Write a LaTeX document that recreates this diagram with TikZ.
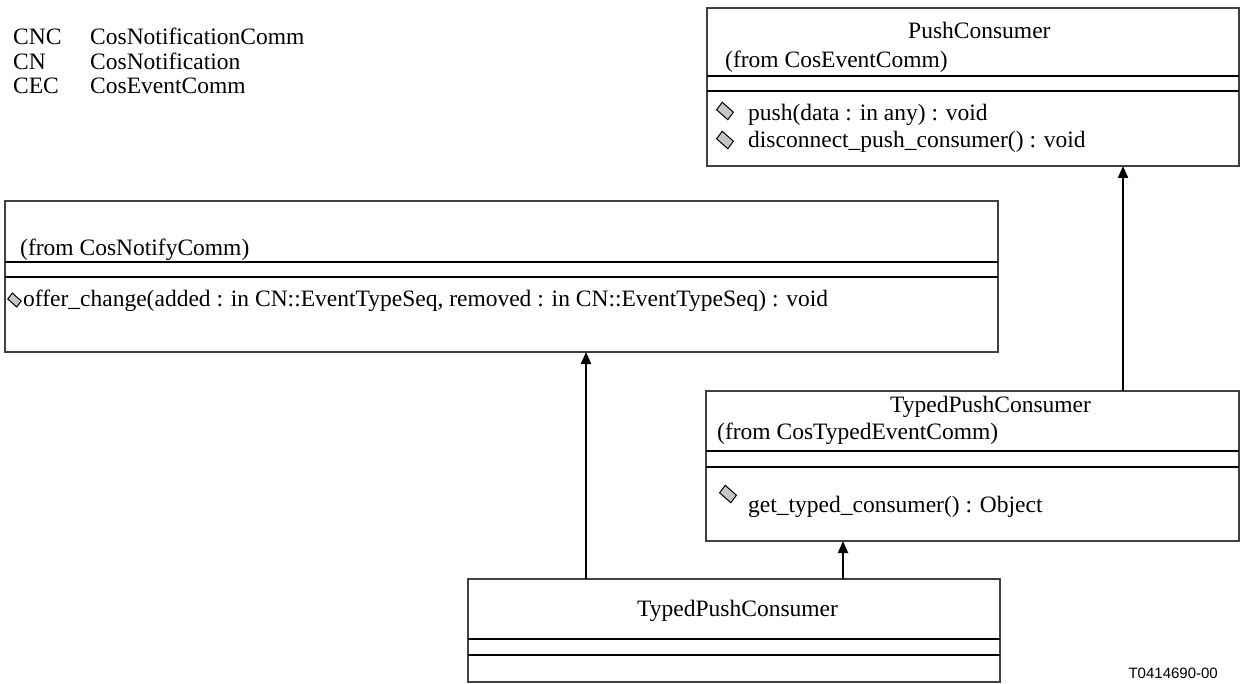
\documentclass[tikz,border=0pt]{standalone}
\usepackage{fontspec}
\setmainfont{Liberation Serif}
\newfontfamily\tagfont{Liberation Sans}
\usetikzlibrary{arrows.meta}
\begin{document}
\begin{tikzpicture}[x=1pt,y=-1pt,
  box/.style={draw=black!75,line width=1.2pt,anchor=north west,inner sep=0pt,outer sep=0pt},
  sepline/.style={line width=2pt},
  arr/.style={line width=2pt,-{Triangle[length=12pt,width=10pt]}},
  txt/.style={anchor=base west,inner sep=0pt,font=\fontsize{23.5}{28}\selectfont},
  opd/.pic={\draw[fill=gray!45,line width=1pt] (-8.4,-1.2) -- (-2.8,-8.7) -- (8.4,1.2) -- (2.8,8.7) -- cycle;}
]
\useasboundingbox (0,0) rectangle (1241,684);

% legend
\node[txt] (l1a) at (13,45) {CNC};
\node[txt] (l1b) at (90,45) {CosNotificationComm};
\node[txt] (l2a) at (13,69.5) {CN};
\node[txt] (l2b) at (90,69.5) {CosNotification};
\node[txt] (l3a) at (13,94) {CEC};
\node[txt] (l3b) at (90,94) {CosEventComm};

% PushConsumer
\node[box,minimum width=532pt,minimum height=158pt] (push) at (707,8) {};
\draw[sepline] ([yshift=-68pt]push.north west) -- ([yshift=-68pt]push.north east);
\draw[sepline] ([yshift=-83pt]push.north west) -- ([yshift=-83pt]push.north east);
\node[txt] (pushT) at (908,39) {PushConsumer};
\node[txt] (pushF) at (725,68) {(from CosEventComm)};
\pic at (725,111) {opd};
\node[txt] (pushO1) at (748,121) {push(data : in any) : void};
\pic at (725,140) {opd};
\node[txt] (pushO2) at (748,148) {disconnect\_push\_consumer() : void};

% CosNotifyComm
\node[box,minimum width=993pt,minimum height=151pt] (notify) at (5,201) {};
\draw[sepline] ([yshift=-61pt]notify.north west) -- ([yshift=-61pt]notify.north east);
\draw[sepline] ([yshift=-76pt]notify.north west) -- ([yshift=-76pt]notify.north east);
\node[txt] (notifyF) at (20,256) {(from CosNotifyComm)};
\pic[scale=0.8] at (14.5,300) {opd};
\node[txt] (notifyO) at (23,307) {offer\_change(added : in CN::EventTypeSeq, removed : in CN::EventTypeSeq) : void};

% middle TypedPushConsumer
\node[box,minimum width=533pt,minimum height=150pt] (mid) at (706,391) {};
\draw[sepline] ([yshift=-60pt]mid.north west) -- ([yshift=-60pt]mid.north east);
\draw[sepline] ([yshift=-76pt]mid.north west) -- ([yshift=-76pt]mid.north east);
\node[txt] (midT) at (890,412) {TypedPushConsumer};
\node[txt] (midF) at (717,439) {(from CosTypedEventComm)};
\pic at (728,494) {opd};
\node[txt] (midO) at (748,512) {get\_typed\_consumer() : Object};

% bottom TypedPushConsumer
\node[box,minimum width=532pt,minimum height=103pt] (bot) at (468,579) {};
\draw[sepline] ([yshift=-60pt]bot.north west) -- ([yshift=-60pt]bot.north east);
\draw[sepline] ([yshift=-76pt]bot.north west) -- ([yshift=-76pt]bot.north east);
\node[txt] (botT) at (637,616) {TypedPushConsumer};

% arrows
\draw[arr] ([xshift=118pt]bot.north west) -- ([xshift=118pt]bot.north west |- notify.south);
\draw[arr] ([xshift=375pt]bot.north west) -- ([xshift=375pt]bot.north west |- mid.south);
\draw[arr] ([xshift=417pt]mid.north west) -- ([xshift=417pt]mid.north west |- push.south);

% tag
\node[anchor=base east,inner sep=0pt,font=\tagfont\fontsize{15}{18}\selectfont] (tag) at (1218,678) {T0414690-00};
\end{tikzpicture}
\end{document}
